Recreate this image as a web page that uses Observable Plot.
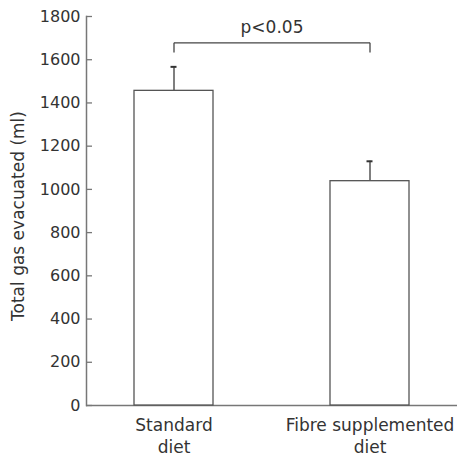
<!DOCTYPE html>
<html>
<head>
<meta charset="utf-8">
<script src="https://cdn.jsdelivr.net/npm/d3@7"></script>
<script src="https://cdn.jsdelivr.net/npm/@observablehq/plot@0.6"></script>
<style>
  html, body { margin: 0; padding: 0; background: #fff; }
  svg { display: block; }
</style>
</head>
<body>
<div id="chart"></div>
<script>
const categories = ["Standard\ndiet", "Fibre supplemented\ndiet"];
const means = [1456, 1038];
const errorTops = [1567, 1130];
const yTicks = [0, 200, 400, 600, 800, 1000, 1200, 1400, 1600, 1800];
const yLabel = "Total gas evacuated (ml)";
const sigLabel = "p<0.05";
const bracketTop = 1678;
const bracketEnd = 1633;
const sigLabelY = 1751;

const bars = categories.map((c, i) => ({cat: c, mean: means[i], err: errorTops[i]}));
const bracket = [
  {x1: categories[0], y1: bracketEnd, x2: categories[0], y2: bracketTop},
  {x1: categories[0], y1: bracketTop, x2: categories[1], y2: bracketTop},
  {x1: categories[1], y1: bracketTop, x2: categories[1], y2: bracketEnd}
];

const font = "DejaVu Sans, sans-serif";
const textColor = "#333";
const axisColor = "#777";
const barColor = "#555";
const W = 457, ML = 86, tickLen = 6;

const chart = Plot.plot({
  width: W,
  height: 459,
  marginLeft: ML,
  marginRight: 0,
  marginTop: 16,
  marginBottom: 54,
  style: {fontFamily: font, fontSize: "16px", color: textColor, background: "#fff"},
  x: {type: "band", domain: categories, paddingInner: 0.595, paddingOuter: 0.2416, axis: null},
  y: {domain: [0, 1800], axis: null},
  marks: [
    Plot.axisY({ticks: yTicks, tickFormat: d3.format("d"), tickSize: 0, tickPadding: 6, label: null, fill: textColor, fontSize: 16}),
    Plot.tickY(yTicks, {y: d => d, stroke: axisColor, strokeWidth: 1.3, insetLeft: 0, insetRight: W - ML - tickLen}),
    Plot.frame({anchor: "left", stroke: axisColor, strokeWidth: 1.5}),
    Plot.ruleY([0], {stroke: axisColor, strokeWidth: 1.5}),
    Plot.ruleX(bars, {x: "cat", y1: "mean", y2: "err", stroke: barColor, strokeWidth: 1.5}),
    Plot.tickY(bars, {x: "cat", y: "err", stroke: "#333", strokeWidth: 2, insetLeft: 36.5, insetRight: 36.5}),
    Plot.barY(bars, {x: "cat", y: "mean", fill: "#fff", stroke: barColor, strokeWidth: 1.3}),
    Plot.link(bracket, {x1: "x1", y1: "y1", x2: "x2", y2: "y2", stroke: "#444", strokeWidth: 1.3}),
    Plot.text([sigLabel], {y: () => sigLabelY, text: d => d, fontSize: 17, fill: textColor, lineAnchor: "middle"}),
    Plot.text(bars, {x: "cat", y: 0, text: "cat", lineAnchor: "top", dy: 10, lineHeight: 1.3, fontSize: 17, fill: textColor}),
    Plot.text([yLabel], {frameAnchor: "left", dx: -68, dy: 5, rotate: -90, textAnchor: "middle", text: d => d, fontSize: 17, fill: textColor})
  ]
});

document.getElementById("chart").appendChild(chart);
</script>
</body>
</html>
